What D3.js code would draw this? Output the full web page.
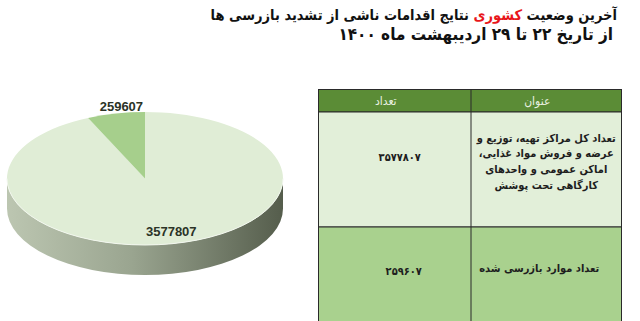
<!DOCTYPE html>
<meta charset="utf-8">
<style>
body { margin: 0; background: #fff; }
text { font-family: "DejaVu Sans Condensed", "DejaVu Sans", sans-serif; font-stretch: condensed; }
</style>
<body>
<script src="https://d3js.org/d3.v7.min.js"></script>
<script>

const width = 640
const height = 321

// data
const categoryLines = [
  ['تعداد کل مراکز تهیه، توزیع و', 'عرضه و فروش مواد غذایی،', 'اماکن عمومی و واحدهای', 'کارگاهی تحت پوشش'],
  ['تعداد موارد بازرسی شده']
]
const values = [3577807, 259607]
const valueLabelsFa = ['۳۵۷۷۸۰۷', '۲۵۹۶۰۷']
const headers = ['عنوان', 'تعداد']
const sliceColors = ['#e0edd6', '#a6cf8c']

const svg = d3.select('body').append('svg')
  .attr('width', width)
  .attr('height', height)

// title
const title = svg.append('g')
const t1 = title.append('text')
  .attr('x', 617).attr('y', 20)
  .attr('direction', 'rtl')
  .attr('text-anchor', 'start')
  .attr('font-size', 14.5)
  .attr('font-weight', 'bold')
  .attr('fill', '#111')
t1.append('tspan').text('آخرین وضعیت ')
t1.append('tspan').attr('fill', '#e8161b').text('کشوری')
t1.append('tspan').text(' نتایج اقدامات ناشی از تشدید بازرسی ها')
title.append('text')
  .attr('x', 613).attr('y', 40)
  .attr('direction', 'rtl')
  .attr('text-anchor', 'start')
  .attr('font-size', 17)
  .attr('font-weight', 'bold')
  .attr('fill', '#111')
  .text('از تاریخ  ۲۲ تا ۲۹ اردیبهشت ماه ۱۴۰۰')

// 3d pie
const cx = 145, cy = 178.5, rx = 138, ry = 66.5, depth = 30
const pie = d3.pie().sort(null).value(d => d)
const arcs = pie(values)
const arc = d3.arc().innerRadius(0).outerRadius(rx)

const defs = svg.append('defs')
const grad = defs.append('linearGradient')
  .attr('id', 'side')
  .attr('x1', 0).attr('x2', 1).attr('y1', 0).attr('y2', 0)
grad.append('stop').attr('offset', '0%').attr('stop-color', '#bcc6b1')
grad.append('stop').attr('offset', '45%').attr('stop-color', '#9aa590')
grad.append('stop').attr('offset', '100%').attr('stop-color', '#555d4c')

const pieG = svg.append('g')

// point on ellipse for an angle measured clockwise from 12 o'clock
function pt(a, dy) {
  return [cx + rx * Math.sin(a), cy - ry * Math.cos(a) + (dy || 0)]
}

// side walls: only the front half is visible
arcs.forEach(d => {
  const a0 = Math.max(d.startAngle, Math.PI / 2)
  const a1 = Math.min(d.endAngle, Math.PI * 1.5)
  if (a1 <= a0) return
  const p0 = pt(a0), p1 = pt(a1)
  const large = (a1 - a0) > Math.PI ? 1 : 0
  const path = `M${p0}A${rx},${ry} 0 ${large} 1 ${p1}L${pt(a1, depth)}A${rx},${ry} 0 ${large} 0 ${pt(a0, depth)}Z`
  pieG.append('path')
    .attr('d', path)
    .attr('fill', 'url(#side)')
})

// top faces
pieG.append('g')
  .attr('transform', `translate(${cx},${cy}) scale(1,${ry / rx})`)
  .selectAll('path')
  .data(arcs)
  .join('path')
  .attr('d', arc)
  .attr('fill', (d, i) => sliceColors[i])

// rim highlight
pieG.append('path')
  .attr('d', `M${pt(Math.PI / 2)}A${rx},${ry} 0 0 1 ${pt(Math.PI * 1.5)}`)
  .attr('fill', 'none')
  .attr('stroke', '#f2f7ee')
  .attr('stroke-width', 1)

// slice labels
const labelR = [0.8, 1.12]
const labelDx = [3, 9]
pieG.selectAll('text.val')
  .data(arcs)
  .join('text')
  .attr('class', 'val')
  .attr('x', (d, i) => cx + rx * labelR[i] * Math.sin((d.startAngle + d.endAngle) / 2) + labelDx[i])
  .attr('y', (d, i) => cy - ry * labelR[i] * Math.cos((d.startAngle + d.endAngle) / 2) + 5)
  .attr('text-anchor', 'middle')
  .style('font-family', 'Liberation Sans, sans-serif')
  .style('font-stretch', 'normal')
  .attr('font-size', 13)
  .attr('font-weight', 'bold')
  .attr('fill', '#2b3326')
  .text(d => d.data)

// table
const colX = [318.5, 471, 621.5]
const rowY = [89.5, 112, 227, 330]
const rowFill = ['#5b8c36', '#e2efd9', '#a9d18e']
const table = svg.append('g')

rowFill.forEach((f, r) => {
  table.append('rect')
    .attr('x', colX[0]).attr('y', rowY[r])
    .attr('width', colX[2] - colX[0]).attr('height', rowY[r + 1] - rowY[r])
    .attr('fill', f)
    .attr('stroke', '#2a2a2a')
    .attr('stroke-width', 1)
})
table.append('line')
  .attr('x1', colX[1]).attr('x2', colX[1])
  .attr('y1', rowY[0]).attr('y2', rowY[3])
  .attr('stroke', '#2a2a2a')

const colMid = [(colX[1] + colX[2]) / 2, (colX[0] + colX[1]) / 2]

headers.forEach((h, i) => {
  table.append('text')
    .attr('x', colMid[i] - 9).attr('y', 105)
    .attr('direction', 'rtl')
    .attr('text-anchor', 'middle')
    .attr('font-size', 12)
    .attr('fill', '#e8f0e0')
    .text(h)
})

const lineY = [[142, 157, 173, 189], [272]]
const numY = [161, 275]
categoryLines.forEach((lines, r) => {
  lines.forEach((l, k) => {
    table.append('text')
      .attr('x', colMid[0] - (r ? 7 : 0))
      .attr('y', lineY[r][k])
      .attr('direction', 'rtl')
      .attr('text-anchor', 'middle')
      .attr('font-size', 11)
      .attr('font-weight', 'bold')
      .attr('fill', '#1e1e1e')
      .text(l)
  })
  table.append('text')
    .attr('x', colMid[1] + 5 + (r ? 4 : 0)).attr('y', numY[r])
    .attr('text-anchor', 'middle')
    .attr('font-size', 11)
    .attr('font-weight', 'bold')
    .attr('fill', '#1e1e1e')
    .text(valueLabelsFa[r])
})

</script>
</body>
</html>
